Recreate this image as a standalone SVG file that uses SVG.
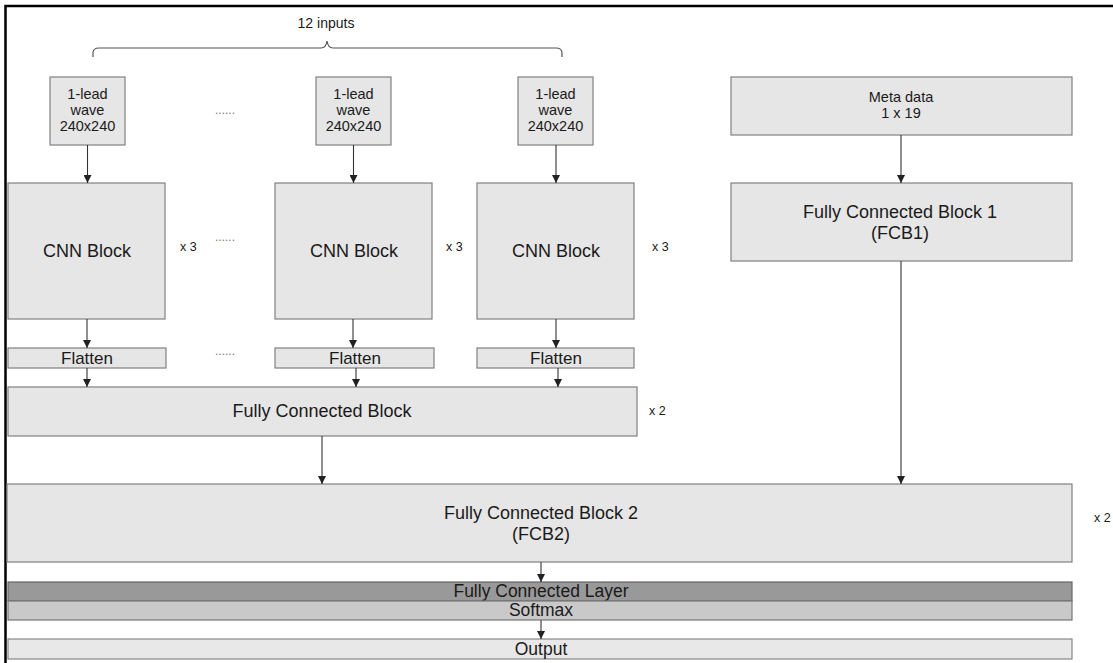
<svg xmlns="http://www.w3.org/2000/svg" width="1113" height="663" viewBox="0 0 1113 663">
<defs>
<marker id="ah" markerWidth="8" markerHeight="8" refX="8" refY="4" orient="auto" markerUnits="userSpaceOnUse">
<path d="M0,0 L8,4 L0,8 Z" fill="#222"/>
</marker>
<style>
text{font-family:"Liberation Sans",Arial,sans-serif;fill:#1a1a1a;text-anchor:middle}
.box{fill:#e6e6e6;stroke:#808080;stroke-width:1.2}
.fcl{fill:#999999;stroke:#666;stroke-width:1.2}
.soft{fill:#c9c9c9;stroke:#777;stroke-width:1.2}
.out{fill:#e8e8e8;stroke:#888;stroke-width:1.2}
.conn line{stroke:#333;stroke-width:1.1;marker-end:url(#ah)}
.sm{font-size:14.5px}
.big{font-size:18px}
.mul{font-size:12.5px;text-anchor:start}
.dots{font-size:12px;fill:#777}
</style>
</defs>
<rect width="1113" height="663" fill="#fff"/>
<g id="frame" fill="none" stroke="#000" stroke-width="2.5">
<path d="M5.5,663 L5.5,6 L1113,6"/>
</g>
<g id="brace">
<path d="M93,57 L93,53 Q93,48 99,48 L321,48 Q326,48 327,41 Q328,48 333,48 L556,48 Q562,48 562,53 L562,57" fill="none" stroke="#555" stroke-width="1.2"/>
<text x="326" y="28" style="font-size:14px">12 inputs</text>
</g>
<g id="input1"><rect class="box" x="50" y="77" width="75" height="68"/><text class="sm" x="87.5" y="99">1-lead</text><text class="sm" x="87.5" y="115">wave</text><text class="sm" x="87.5" y="131">240x240</text></g>
<g id="input2"><rect class="box" x="316" y="77" width="75" height="68"/><text class="sm" x="353.5" y="99">1-lead</text><text class="sm" x="353.5" y="115">wave</text><text class="sm" x="353.5" y="131">240x240</text></g>
<g id="input3"><rect class="box" x="518" y="77" width="75" height="68"/><text class="sm" x="555.5" y="99">1-lead</text><text class="sm" x="555.5" y="115">wave</text><text class="sm" x="555.5" y="131">240x240</text></g>
<g id="meta"><rect class="box" x="731" y="77" width="341" height="58"/><text class="sm" x="901" y="102">Meta data</text><text class="sm" x="901" y="118">1 x 19</text></g>
<g id="cnn1"><rect class="box" x="8" y="183" width="157" height="136"/><text class="big" x="87" y="257">CNN Block</text><text class="mul" x="180" y="251">x 3</text></g>
<g id="cnn2"><rect class="box" x="275" y="183" width="157" height="136"/><text class="big" x="354" y="257">CNN Block</text><text class="mul" x="446" y="251">x 3</text></g>
<g id="cnn3"><rect class="box" x="477" y="183" width="157" height="136"/><text class="big" x="556" y="257">CNN Block</text><text class="mul" x="652" y="251">x 3</text></g>
<g id="fcb1"><rect class="box" x="731" y="183" width="341" height="78"/><text class="big" x="900" y="218">Fully Connected Block 1</text><text class="big" x="900" y="239">(FCB1)</text></g>
<g id="flatten1"><rect class="box" x="8" y="348" width="158" height="20"/><text class="big" x="87" y="364" style="font-size:17px">Flatten</text></g>
<g id="flatten2"><rect class="box" x="275" y="348" width="159" height="20"/><text class="big" x="355" y="364" style="font-size:17px">Flatten</text></g>
<g id="flatten3"><rect class="box" x="477" y="348" width="157" height="20"/><text class="big" x="556" y="364" style="font-size:17px">Flatten</text></g>
<g id="dots"><text class="dots" x="225" y="114">......</text><text class="dots" x="225" y="241">......</text><text class="dots" x="225" y="355">......</text></g>
<g id="fcb"><rect class="box" x="8" y="387" width="629" height="49"/><text class="big" x="322" y="417">Fully Connected Block</text><text class="mul" x="649" y="415">x 2</text></g>
<g id="fcb2"><rect class="box" x="7" y="484" width="1065" height="78"/><text class="big" x="541" y="519">Fully Connected Block 2</text><text class="big" x="541" y="540">(FCB2)</text><text class="mul" x="1094" y="522">x 2</text></g>
<g id="fclayer"><rect class="fcl" x="8" y="582" width="1064" height="19"/><text class="big" x="541" y="597" style="font-size:17.5px">Fully Connected Layer</text></g>
<g id="softmax"><rect class="soft" x="8" y="601" width="1064" height="19"/><text class="big" x="541" y="616" style="font-size:17.5px">Softmax</text></g>
<g id="output"><rect class="out" x="8" y="639" width="1064" height="20"/><text class="big" x="541" y="655" style="font-size:17.5px">Output</text></g>
<g id="connectors" class="conn">
<line x1="87.5" y1="145" x2="87.5" y2="183"/>
<line x1="353.5" y1="145" x2="353.5" y2="183"/>
<line x1="556" y1="145" x2="556" y2="183"/>
<line x1="901" y1="135" x2="901" y2="183"/>
<line x1="87" y1="319" x2="87" y2="348"/>
<line x1="353" y1="319" x2="353" y2="348"/>
<line x1="556" y1="319" x2="556" y2="348"/>
<line x1="87" y1="368" x2="87" y2="387"/>
<line x1="356" y1="368" x2="356" y2="387"/>
<line x1="558" y1="368" x2="558" y2="387"/>
<line x1="322" y1="436" x2="322" y2="484"/>
<line x1="901" y1="261" x2="901" y2="484"/>
<line x1="541" y1="562" x2="541" y2="582"/>
<line x1="541" y1="620" x2="541" y2="639"/>
</g>
</svg>
